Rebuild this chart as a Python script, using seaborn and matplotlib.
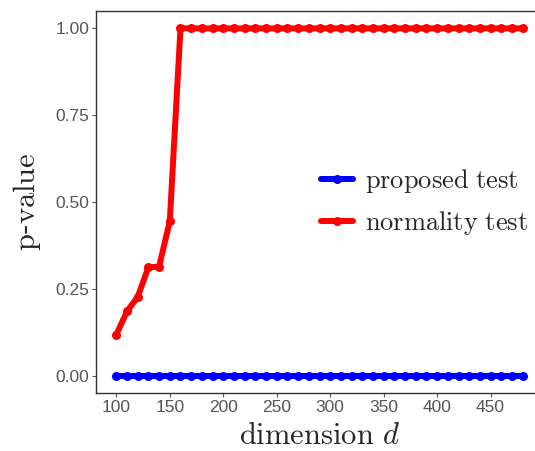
import numpy as np
import pandas as pd
import matplotlib
matplotlib.use("Agg")
import matplotlib.pyplot as plt
import seaborn as sns

# Data
dims = list(range(100, 481, 10))
proposed_p = [0.0] * len(dims)
normality_p = [0.118, 0.185, 0.227, 0.312, 0.314, 0.445] + [1.0] * (len(dims) - 6)
series_names = ["proposed test", "normality test"]
series_colors = ["#0000FF", "#FF0000"]

df = pd.DataFrame({
    "dimension": dims * 2,
    "pvalue": proposed_p + normality_p,
    "test": [series_names[0]] * len(dims) + [series_names[1]] * len(dims),
})

sns.set_style("white")
plt.rcParams["font.family"] = ["Liberation Sans", "DejaVu Sans"]
plt.rcParams["mathtext.fontset"] = "cm"

fig = plt.figure(figsize=(5.35, 4.51), dpi=100)
# axes runs past the right edge, as in the (cropped) reference
ax = fig.add_axes([96 / 535, 58 / 451, 447 / 535, 382 / 451])

sns.lineplot(
    data=df,
    x="dimension",
    y="pvalue",
    hue="test",
    hue_order=series_names,
    palette=series_colors,
    marker="o",
    markersize=6.5,
    markeredgewidth=0,
    linewidth=4.3,
    ax=ax,
)

ax.set_xlim(81, 499)
ax.set_ylim(-0.05, 1.05)
ax.set_xticks([100, 150, 200, 250, 300, 350, 400, 450])
ax.set_yticks([0, 0.25, 0.5, 0.75, 1.0])
ax.set_yticklabels(["0.00", "0.25", "0.50", "0.75", "1.00"])

ax.tick_params(axis="both", which="both", length=3, width=0.8,
               color="#555555", labelcolor="#555555", labelsize=12.5,
               bottom=True, left=True, pad=2)
for s in ax.spines.values():
    s.set_color("#333333")
    s.set_linewidth(1.0)

ax.set_xlabel(r"$\mathrm{dimension}\ d$", fontsize=22, labelpad=4)
ax.set_ylabel(r"$\mathrm{p}$-$\mathrm{value}$", fontsize=22, labelpad=9)

handles, labels = ax.get_legend_handles_labels()
ax.legend(
    handles,
    [r"$\mathrm{proposed\ test}$", r"$\mathrm{normality\ test}$"],
    loc="center left",
    bbox_to_anchor=(321 / 535, 1 - 202 / 451),
    bbox_transform=fig.transFigure,
    frameon=False,
    fontsize=19,
    handlelength=1.2,
    handletextpad=0.45,
    labelspacing=0.55,
    borderpad=0,
    borderaxespad=0,
)

plt.savefig("out.png", dpi=100)
